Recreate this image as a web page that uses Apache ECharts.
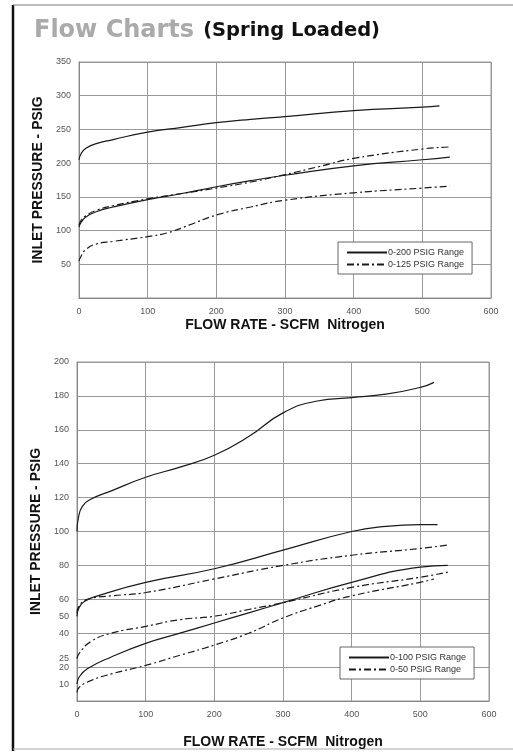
<!DOCTYPE html>
<html>
<head>
<meta charset="utf-8">
<script src="https://cdn.jsdelivr.net/npm/echarts@6/dist/echarts.min.js"></script>
<style>
html,body{margin:0;padding:0;background:#fff;}
#c{width:513px;height:755px;}
</style>
</head>
<body>
<div id="c"></div>
<script>
// ---- Data (SCFM Nitrogen vs inlet pressure PSIG) ----
var topSolidHigh = [[0,205],[3,214],[10,222],[25,229],[50,235],[100,246],[150,253],[200,260],[250,265],[300,269],[400,278],[500,283],[525,285]];
var topSolidLow  = [[0,105],[3,112],[10,120],[25,128],[50,135],[100,146],[150,155],[200,165],[250,174],[300,182],[400,196],[500,205],[540,209]];
var topDashHigh  = [[0,108],[3,115],[10,122],[25,130],[50,137],[100,147],[150,155],[200,163],[250,172],[300,183],[350,195],[400,207],[500,221],[540,224]];
var topDashLow   = [[0,55],[3,62],[10,72],[25,80],[50,84],[100,91],[130,97],[160,108],[200,123],[250,135],[300,145],[400,156],[500,163],[540,166]];

var botSolidA = [[0,100],[2,108],[8,115],[20,119],[50,124],[100,132],[150,138],[200,145],[250,156],[300,170],[350,177],[400,179],[450,181],[500,185],[520,188]];
var botSolidB = [[0,50],[3,55],[12,59],[30,62],[100,70],[200,78],[300,89],[400,100],[450,103],[500,104],[525,104]];
var botDashC  = [[0,52],[3,56],[15,60],[50,62],[100,64],[200,72],[300,80],[400,86],[500,90],[540,92]];
var botSolidD = [[0,10],[3,14],[15,19],[50,26],[100,34],[150,40],[200,46],[250,52],[300,58],[400,70],[500,79],[540,80]];
var botDashE  = [[0,25],[3,28],[20,35],[50,40],[100,44],[150,48],[200,50],[250,54],[300,58],[400,67],[500,73],[540,76]];
var botDashF  = [[0,5],[3,8],[20,12],[50,16],[100,21],[150,27],[200,33],[250,40],[300,49],[350,56],[400,62],[500,70],[520,72]];

var xTicks = [0,100,200,300,400,500,600];
var topYTicks = [50,100,150,200,250,300,350];
var botYTicks = [5,10,20,25,40,50,60,80,100,120,140,160,180,200];

var legendTop = ['0-200 PSIG Range','0-125 PSIG Range'];
var legendBot = ['0-100 PSIG Range','0-50 PSIG Range'];

// ---- Styling ----
var lineColor = '#1a1a1a';
var dashPattern = [7,3,2,3];
var fam = 'Liberation Sans, Arial, sans-serif';
var labelFont = {color:'#555', fontSize:9, fontFamily:fam};
var titleFont = {color:'#111', fontSize:14, fontWeight:'bold', fontFamily:fam};

function mkSeries(name, data, dashed, xi, yi){
  return {
    name:name, type:'line', data:data, xAxisIndex:xi, yAxisIndex:yi,
    smooth:0.5, symbol:'none', showSymbol:false,
    lineStyle:{color:lineColor, width:1.2, type: dashed ? dashPattern : 'solid'},
    itemStyle:{color:lineColor},
    emphasis:{disabled:true}, silent:true, animation:false
  };
}

function xAxisCfg(gi, gap){
  return {
    type:'value', gridIndex:gi, min:0, max:600, interval:100,
    name:'FLOW RATE - SCFM  Nitrogen', nameLocation:'middle', nameGap:gap,
    nameTextStyle:titleFont,
    axisLine:{show:true, lineStyle:{color:'#888'}},
    axisTick:{show:false},
    axisLabel:Object.assign({margin:9, customValues:xTicks}, labelFont),
    splitLine:{show:true, lineStyle:{color:'#999', width:1}}
  };
}

function legendCfg(names, left, top){
  return {
    data:[{name:names[0]},{name:names[1]}], orient:'vertical', left:left, top:top,
    padding:[6,8,5,8], itemGap:3, itemWidth:40, itemHeight:8,
    itemStyle:{opacity:0},
    backgroundColor:'#fff', borderColor:'#666', borderWidth:1, borderRadius:0,
    textStyle:{color:'#333', fontSize:9, fontFamily:fam, padding:[0,0,0,-4]},
    selectedMode:false
  };
}

var option = {
  backgroundColor:'#fff',
  animation:false,
  title:{
    left:29, top:14,
    text:'{a|Flow Charts} {b|(Spring Loaded)}',
    textStyle:{rich:{
      a:{color:'#aaaaaa', fontSize:24, fontWeight:'bold', fontFamily:'DejaVu Sans, sans-serif'},
      b:{color:'#111', fontSize:19.5, fontWeight:'bold', fontFamily:'DejaVu Sans, sans-serif', padding:[0,0,0,4]}
    }}
  },
  graphic:[
    {type:'line', shape:{x1:13, y1:5, x2:13, y2:751}, style:{stroke:'#111', lineWidth:2.5}, silent:true},
    {type:'line', shape:{x1:13, y1:5, x2:513, y2:5}, style:{stroke:'#777', lineWidth:1}, silent:true},
    {type:'line', shape:{x1:13, y1:749, x2:513, y2:749}, style:{stroke:'#aaa', lineWidth:1}, silent:true}
  ],
  grid:[
    {left:79, right:22, top:62, height:236, show:true, borderColor:'#999', borderWidth:1, backgroundColor:'transparent'},
    {left:77, right:24, top:362, height:339, show:true, borderColor:'#999', borderWidth:1, backgroundColor:'transparent'}
  ],
  xAxis:[xAxisCfg(0, 20), xAxisCfg(1, 34)],
  yAxis:[
    {type:'value', gridIndex:0, min:0, max:350, interval:50,
     name:'INLET PRESSURE - PSIG', nameLocation:'middle', nameGap:31, nameTextStyle:titleFont,
     axisLine:{show:true, lineStyle:{color:'#888'}}, axisTick:{show:false},
     axisLabel:Object.assign({margin:8, customValues:topYTicks}, labelFont),
     splitLine:{show:true, lineStyle:{color:'#999', width:1}}},
    {type:'value', gridIndex:1, min:0, max:200, interval:20,
     name:'INLET PRESSURE - PSIG', nameLocation:'middle', nameGap:30, nameTextStyle:titleFont,
     axisLine:{show:true, lineStyle:{color:'#888'}}, axisTick:{show:false},
     axisLabel:Object.assign({margin:8, customValues:botYTicks}, labelFont),
     splitLine:{show:true, lineStyle:{color:'#999', width:1}}}
  ],
  legend:[ legendCfg(legendTop, 338, 242), legendCfg(legendBot, 340, 647) ],
  series:[
    mkSeries(legendTop[0], topSolidHigh, false, 0, 0),
    mkSeries(legendTop[0], topSolidLow, false, 0, 0),
    mkSeries(legendTop[1], topDashHigh, true, 0, 0),
    mkSeries(legendTop[1], topDashLow, true, 0, 0),
    mkSeries(legendBot[0], botSolidA, false, 1, 1),
    mkSeries(legendBot[0], botSolidB, false, 1, 1),
    mkSeries(legendBot[0], botSolidD, false, 1, 1),
    mkSeries(legendBot[1], botDashC, true, 1, 1),
    mkSeries(legendBot[1], botDashE, true, 1, 1),
    mkSeries(legendBot[1], botDashF, true, 1, 1)
  ]
};

var chart = echarts.init(document.getElementById('c'), null, {renderer:'canvas'});
chart.setOption(option);
</script>
</body>
</html>
